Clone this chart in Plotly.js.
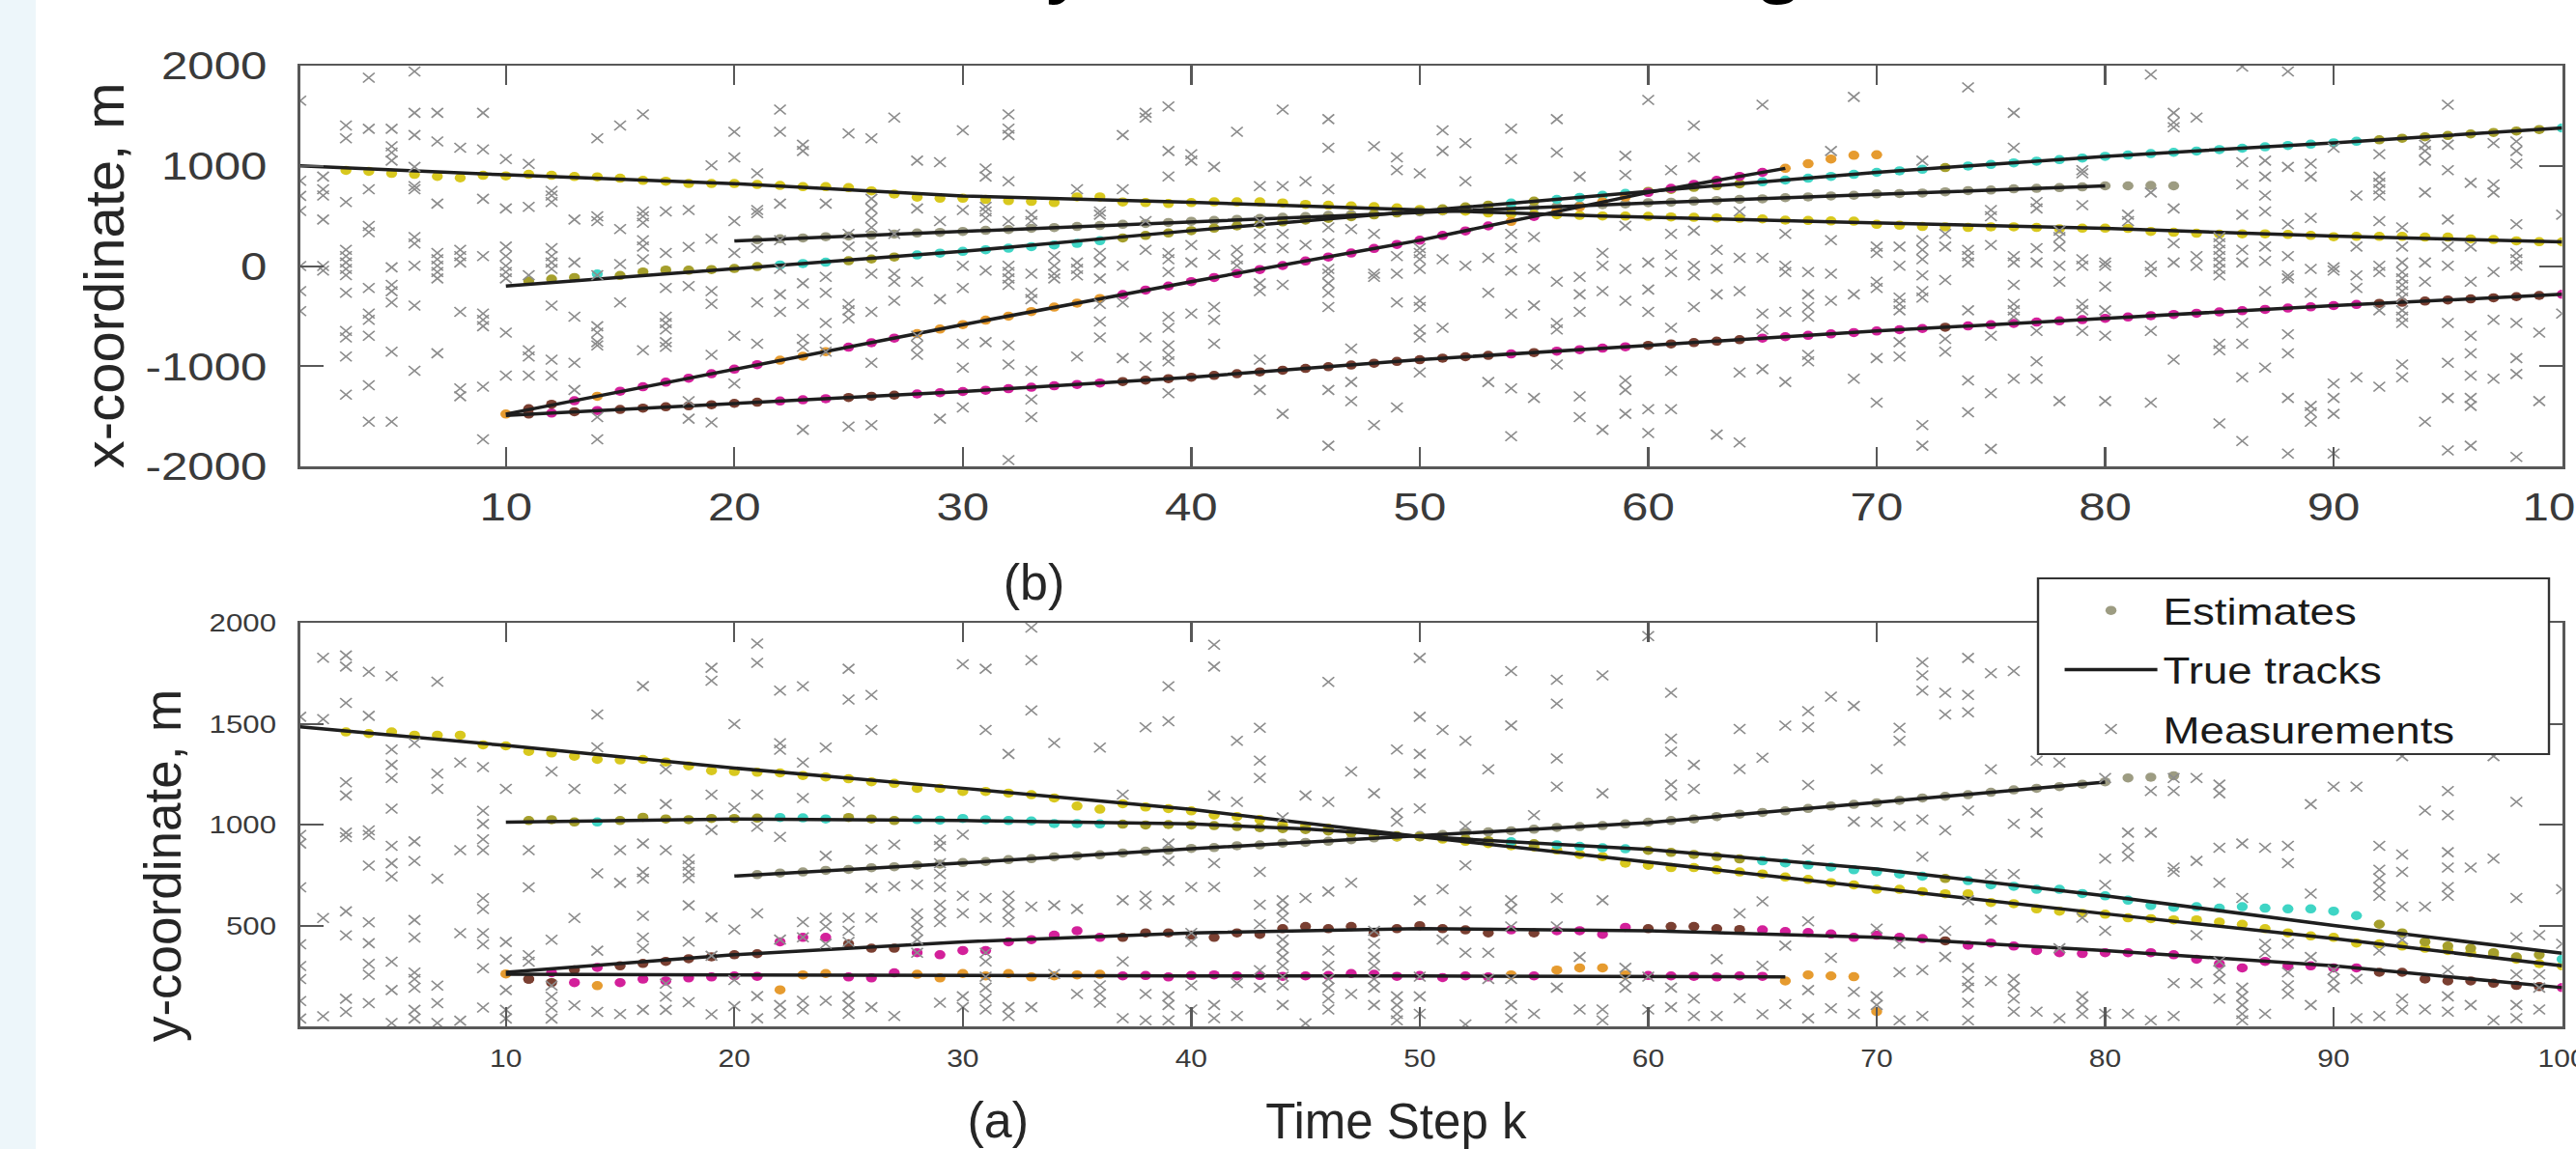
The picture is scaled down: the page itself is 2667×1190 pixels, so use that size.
<!DOCTYPE html>
<html>
<head>
<meta charset="utf-8">
<title>(x, y) Coordinate Tracking</title>
<script src="https://cdn.plot.ly/plotly-3.0.1.min.js"></script>
<style>
  html, body { margin: 0; padding: 0; overflow: hidden; background: #ffffff; width: 2667px; height: 1190px; }
  #chart { position: absolute; left: 0; top: 0; width: 2222px; height: 1190px; transform: scaleX(1.20027); transform-origin: 0 0; }
  #strip { position: absolute; left: 0; top: 0; width: 37px; height: 1190px; background: #edf6fa; z-index: 2; }
</style>
</head>
<body>
<div id="chart"></div>
<div id="strip"></div>
<script>
// ---------------- DATA ----------------
const chartTitle = "(x, y) Coordinate Tracking";
const topYTitle = "x-coordinate, m";
const botYTitle = "y-coordinate, m";
const xTitle = "Time Step k";
const panelLabels = ["(a)", "(b)"];
const legendNames = ["Estimates", "True tracks", "Measurements"];

const xTickVals = [10, 20, 30, 40, 50, 60, 70, 80, 90, 100];
const topYTickVals = [-2000, -1000, 0, 1000, 2000];
const topYTickText = ["-2000", "-1000", "0", "1000", "2000"];
const botYTickVals = [500, 1000, 1500, 2000];
const botYTickText = ["500", "1000", "1500", "2000"];

// True tracks (knots: time step, x-coordinate, y-coordinate)
const trueA_k = [1, 10, 20, 30, 40, 50, 58, 68, 80, 90, 100];
const trueA_x = [1000, 910, 822, 700, 636, 565, 500, 440, 376, 298, 241];
const trueA_y = [1484, 1392, 1280, 1180, 1075, 940, 840, 712, 558, 435, 300];
const trueB_k = [10, 20, 30, 40, 45, 50, 60, 70, 80, 90, 100];
const trueB_x = [-200, -25, 146, 353, 452, 550, 745, 935, 1095, 1230, 1378];
const trueB_y = [1012, 1028, 1020, 1003, 978, 941, 877, 780, 647, 500, 362];
const trueC_k = [20, 30, 40, 50, 60, 70, 80];
const trueC_x = [250, 345, 445, 540, 630, 715, 800];
const trueC_y = [745, 810, 880, 945, 1010, 1110, 1210];
const trueD_k = [10, 20, 30, 40, 50, 60, 66];
const trueD_x = [-1478, -1030, -585, -156, 257, 734, 975];
const trueD_y = [258, 254, 252, 250, 250, 248, 245];
const trueE_k = [10, 20, 30, 40, 50, 60, 70, 80, 90, 100];
const trueE_x = [-1492, -1371, -1253, -1110, -935, -792, -649, -522, -395, -283];
const trueE_y = [268, 355, 419, 463, 484, 474, 441, 376, 300, 192];

// Estimates per track (first time step, x values, y values, label runs [from, to, label])
const estA_k0 = 3;
const estA_x = [955, 945, 925, 915, 895, 880, 905, 900, 915, 905, 893, 890, 877, 855, 846,
  823, 823, 823, 814, 804, 792, 792, 782, 750, 718, 687, 677, 677, 664, 652, 645, 633, 690, 690, 639, 633, 623, 633, 640, 640,
  640, 630, 615, 607, 600, 592, 580, 565, 555, 548, 530, 520, 515, 512, 505, 500, 498, 496, 490, 486, 480, 476, 470, 458, 455, 450,
  448, 416, 407, 395, 391, 385, 391, 391, 385, 370, 378, 378, 375, 345, 337, 327, 318, 321, 321, 315, 305, 292, 296, 296, 296, 289, 289, 270, 264, 251, 243, 241];
const estA_y = [1459, 1451, 1459, 1443, 1443, 1443, 1395, 1390, 1363, 1355, 1339, 1323, 1320, 1323, 1310,
  1291, 1267, 1263, 1259, 1256, 1243, 1236, 1227, 1212, 1204, 1180, 1180, 1164, 1164, 1156, 1148, 1132, 1092, 1076, 1103, 1087,
  1079, 1068, 1047, 1040, 1025, 997, 993, 982, 960, 950, 939, 939, 928, 917, 906, 895, 889, 874, 852, 841, 809, 798, 787, 787, 776,
  765, 755, 740, 728, 712,
  701, 679, 679, 668, 657, 657, 614, 608, 582, 571, 560, 556, 538, 534, 528, 528, 517, 506, 484, 463, 448, 441, 413, 409, 398, 387, 376, 365, 355, 333, 311, 300];
const estA_runs = [[3, 100, 'y']];

const estB_k0 = 11;
const estB_x = [-150, -130, -115, -80, -95, -60, -40, -42, -35, -25,
  -5, 10, 25, 38, 52, 70, 90, 110, 128, 146,
  162, 178, 194, 210, 226, 252, 280, 305, 330, 353,
  378, 400, 420, 440, 458, 475, 492, 510, 530, 550,
  570, 590, 608, 628, 648, 665, 685, 705, 725, 745,
  765, 785, 802, 820, 840, 858, 876, 895, 915, 935,
  950, 966, 982, 998, 1014, 1030, 1046, 1062, 1078, 1095,
  1108, 1122, 1135, 1148, 1162, 1176, 1190, 1203, 1216, 1230,
  1245, 1260, 1275, 1290, 1303, 1318, 1333, 1348, 1362, 1378];
const estB_y = [1020, 1024, 1013, 1013, 1020, 1036, 1028, 1024, 1030, 1030,
  1032, 1035, 1033, 1028, 1035, 1028, 1020, 1025, 1022, 1030,
  1024, 1020, 1018, 1005, 1005, 1003, 1002, 998, 1000, 998,
  995, 990, 985, 980, 975, 968, 960, 952, 945, 940,
  935, 928, 920, 915, 905, 900, 892, 885, 880, 872,
  862, 852, 842, 830, 820, 810, 800, 790, 776, 766,
  755, 744, 733, 722, 701, 694, 679, 679, 658, 647,
  625, 599, 590, 593, 586, 593, 586, 582, 582, 571,
  549, 506, 463, 419, 398, 387, 365, 344, 355, 333];
const estB_runs = [[11, 13, 'o'], [14, 14, 'c'], [15, 21, 'o'], [22, 24, 'c'], [25, 27, 'o'], [28, 36, 'c'],
  [37, 53, 'o'], [54, 54, 'c'], [55, 55, 'o'], [56, 59, 'c'], [60, 64, 'o'], [65, 72, 'c'], [73, 73, 'o'],
  [74, 91, 'c'], [92, 99, 'o'], [100, 100, 'c']];

const estC_k0 = 21;
const estC_x = [262, 272, 280, 292, 300, 308, 318, 330, 336, 345,
  356, 364, 376, 384, 395, 404, 416, 425, 434, 446,
  455, 466, 474, 486, 494, 506, 514, 523, 533, 540,
  550, 559, 566, 577, 584, 595, 602, 613, 620, 632,
  637, 648, 654, 665, 671, 682, 690, 699, 706, 720,
  724, 728, 741, 752, 758, 770, 775, 783, 790, 800,
  800, 805, 800];
const estC_y = [752, 760, 765, 773, 778, 786, 791, 799, 804, 812,
  817, 826, 831, 840, 845, 850, 859, 868, 873, 882,
  886, 895, 899, 908, 912, 917, 925, 934, 938, 946,
  951, 960, 964, 969, 977, 986, 990, 995, 1003, 1012,
  1020, 1028, 1040, 1052, 1060, 1068, 1080, 1092, 1100, 1108,
  1120, 1132, 1140, 1148, 1160, 1172, 1180, 1188, 1200, 1212,
  1231, 1235, 1242];
const estC_runs = [[21, 83, 'g']];

const estD_k0 = 10;
const estD_x = [-1478, -1425, -1380, -1345, -1300, -1250, -1205, -1160, -1120, -1075, -1030,
  -985, -940, -900, -855, -810, -765, -720, -675, -630, -585,
  -540, -500, -455, -410, -370, -325, -285, -240, -200, -156,
  -115, -75, -35, 5, 50, 90, 130, 175, 215, 257,
  305, 350, 400, 445, 495, 545, 590, 640, 688, 734,
  775, 815, 855, 895, 935, 975,
  1021, 1068, 1105, 1110];
const estD_y = [260, 234, 217, 217, 202, 217, 234, 225, 240, 245, 250,
  248, 181, 255, 262, 245, 240, 265, 258, 240, 262,
  250, 262, 245, 250, 255, 258, 250, 252, 245, 252,
  255, 250, 252, 248, 250, 252, 262, 258, 248, 252,
  242, 250, 245, 255, 250, 279, 290, 290, 255, 252,
  250, 248, 245, 250, 248, 225,
  255, 250, 246, 73];
const estD_runs = [[10, 10, 'r'], [11, 12, 'b'], [13, 13, 'm'], [14, 14, 'r'], [15, 21, 'm'], [22, 24, 'r'],
  [25, 27, 'm'], [28, 36, 'r'], [37, 53, 'm'], [54, 54, 'r'], [55, 55, 'm'], [56, 59, 'r'], [60, 65, 'm'], [66, 70, 'r']];

const estE_k0 = 11;
const estE_x = [-1478, -1468, -1455, -1443, -1432, -1418, -1405, -1396, -1385, -1371,
  -1360, -1348, -1336, -1325, -1312, -1300, -1289, -1277, -1265, -1253,
  -1240, -1225, -1210, -1196, -1182, -1168, -1153, -1139, -1125, -1110,
  -1092, -1075, -1057, -1040, -1022, -1005, -988, -970, -952, -935,
  -920, -906, -892, -878, -864, -850, -835, -820, -806, -792,
  -778, -764, -750, -735, -720, -706, -692, -678, -664, -649,
  -636, -624, -611, -598, -586, -573, -560, -548, -535, -522,
  -509, -496, -484, -471, -458, -446, -433, -420, -408, -395,
  -384, -373, -362, -350, -339, -328, -317, -306, -294, -283];
const estE_y = [234, 266, 280, 292, 300, 312, 322, 335, 345, 355,
  360, 419, 441, 441, 409, 387, 387, 365, 355, 376,
  376, 419, 430, 452, 474, 441, 441, 463, 463, 452,
  441, 463, 456, 484, 495, 484, 495, 463, 484, 499,
  484, 478, 463, 478, 463, 474, 474, 456, 491, 484,
  495, 495, 484, 480, 478, 470, 465, 458, 441, 452,
  441, 435, 424, 402, 413, 398, 376, 365, 361, 365,
  365, 365, 355, 333, 311, 290, 322, 300, 300, 290,
  290, 268, 268, 235, 225, 225, 214, 203, 197, 192];
const estE_runs = [[11, 11, 'b'], [12, 12, 'm'], [13, 13, 'b'], [14, 14, 'm'], [15, 21, 'b'], [22, 24, 'm'],
  [25, 27, 'b'], [28, 36, 'm'], [37, 53, 'b'], [54, 54, 'm'], [55, 55, 'b'], [56, 59, 'm'], [60, 64, 'b'],
  [65, 72, 'm'], [73, 73, 'b'], [74, 91, 'm'], [92, 99, 'b'], [100, 100, 'm']];

// Measurements, one list per time step k = 1..100
const measTop = [
  [1650, 850, 700, 550, 0, -250, -450],
  [893, 766, 703, 464, 0, -45],
  [1402, 1275, 639, 162, 98, 35, -29, -92, -267, -649, -713, -903, -1285],
  [1879, 1370, 766, 400, 337, -220, -474, -538, -697, -1190, -1555],
  [1370, 1195, 1132, 1052, -13, -188, -252, -363, -856, -1555],
  [1943, 1529, 1307, 989, 798, 766, 289, 225, 3, -395, -1046],
  [1529, 1243, 623, 130, 67, 3, -60, -124, -871],
  [1180, 162, 98, 35, -458, -1221, -1300],
  [1529, 1164, 671, 98, -474, -538, -601, -1205, -1730],
  [1068, 575, 194, 98, 3, -60, -124, -665, -1094],
  [1020, 591, -92, -840, -903, -1094],
  [750, 703, 639, 178, 98, 35, -29, -395, -935, -1094],
  [464, 35, -506, -967, -1237],
  [1275, 496, 448, -92, -601, -665, -760, -792, -1508, -1730],
  [1402, 369, 19, -363],
  [1513, 544, 496, 432, 257, 194, 67, -840],
  [544, 130, -220, -506, -570, -633, -760, -808],
  [560, 190, -200, -1350, -1524],
  [1005, 273, -251, -379, -887, -1561],
  [1339, 1084, 448, 130, -697, -1173],
  [925, 560, 528, 178, -363, -776],
  [1561, 1339, 623, 257, -29, -283, -458],
  [1211, 1148, -172, -379, -728, -808, -1635],
  [623, -108, -267, -569, -728, -855],
  [1323, 321, 194, -379, -442, -522, -1603],
  [1275, 671, 575, 480, 385, 194, -77, -458, -967, -1587],
  [1482, 321, -77, -156, -347],
  [1052, 575, -156, -697, -792, -887],
  [1036, 448, -331, -1524],
  [1355, 560, 3, -220, -776, -1015, -1412],
  [973, 893, 591, 544, 480, -45, -760],
  [1514, 1371, 1307, 846, 448, 3, -61, -124, -188, -792, -983, -1937],
  [512, 448, -77, -267, -331, -1046, -1333, -1508],
  [98, 3, -77, -124],
  [766, 35, -29, -93, -903],
  [544, 512, 130, 35, -124, -379, -554, -713],
  [1307, 766, 3, -363, -919],
  [1529, 1482, 448, 162, -713, -999],
  [1593, 1148, 894, 130, 67, -61, -506, -617, -792, -887, -951, -1269],
  [1116, 1052, 210, 35, -474],
  [989, 114, -410, -537, -776],
  [1339, 162, 67, 3],
  [798, 448, 321, 178, -172, -251, -935, -1237],
  [1561, 798, 321, 178, -188, -1476],
  [846, 210],
  [1466, 1180, 766, 385, 226, -29, -77, -172, -267, -410, -1237, -1794],
  [369, -824, -1158, -1349],
  [1196, 321, -77, -108, -1587],
  [1084, 957, 98, -77, -363, -1412],
  [925, 178, 130, 67, -29, -347, -410, -633, -713, -1062],
  [1355, 1148, 67, -617],
  [1227, 846, 3],
  [82, -267, -1158],
  [1371, 1068, 321, 178, -45, -474, -1221, -1698],
  [289, -29, -394, -1317],
  [1466, 1132, -156, -569, -633, -983],
  [893, -108, -283, -458, -1301, -1508],
  [130, 3, -251, -1635],
  [1100, 909, 401, -29, -347, -1142, -1237, -1476],
  [1657, 35, -235, -458, -1428, -1667],
  [957, 321, 114, -61, -617, -1046, -1428],
  [1402, 1084, 353, 3, -93, -410],
  [162, -29, -283, -1683],
  [544, 82, -251, -1062, -1762],
  [1609, 82, -474, -633, -1030],
  [321, 3, -61, -458, -1158],
  [-61, -283, -410, -506, -887, -951],
  [1148, 257, -77, -347],
  [1688, -283, -1126],
  [194, 130, -156, -220, -919, -1364],
  [194, 3, -315, -379, -442, -760, -903],
  [1052, 257, 162, 67, -93, -251, -315, -1587, -1794],
  [321, 194, -140, -728, -856],
  [1784, 162, 98, 35, -442, -1142, -1460],
  [559, 496, 210, -697, -1269, -1825],
  [1529, 1180, 98, 35, -188, -379, -442, -506, -1126],
  [639, 575, 178, 35, -649, -951, -1126],
  [353, 289, 194, 3, -156, -1348],
  [957, 925, 607, 67, 3, -379, -442, -649],
  [35, 3, -204, -442, -697, -1348],
  [512, 448],
  [1911, 734, 3, -61, -649, -1364],
  [1529, 1434, 1386, 575, 226, 35, -935],
  [1482, 98, 3],
  [289, 226, 162, 98, 35, -29, -93, -776, -840, -1571],
  [1990, 1036, 814, 512, 162, 35, -569, -776, -1110, -1746],
  [1052, 893, 703, 544, 194, 51, -251, -1015],
  [1943, 989, 417, 98, -93, -124, -681, -872, -1317, -1873],
  [1021, 893, 480, -29, -267, -1396, -1460, -1555],
  [1180, -13, -45, -1174, -1317, -1476, -1873],
  [703, 194, -93, -220, -1110],
  [1116, 893, 830, 766, 703, 448, 3, -61, -442, -1205],
  [385, 194, 35, -61, -124, -188, -251, -315, -442, -506, -569, -983, -1110],
  [1211, 1148, 1052, 734, 35, -156, -1555],
  [1609, 1211, 957, 464, 194, 3, -569, -967, -1317, -1841],
  [830, 194, -156, -697, -872, -1094, -1317, -1396, -1794],
  [1227, 814, 734, -61, -538, -1126],
  [1243, 1148, 1021, 417, 130, 67, 3, -569, -919, -1078, -1905],
  [-665, -1348],
  [512, -474]
];
const measBot = [
  [1534, 949, 906, 689, 407, 299, 234, 126, 39],
  [1827, 1523, 537, 50],
  [1838, 1783, 1603, 1209, 1144, 960, 938, 570, 451, 137, 72],
  [1757, 1539, 971, 949, 797, 516, 412, 310, 256, 115],
  [1736, 1372, 1296, 1231, 1079, 895, 808, 743, 321, 180, 17],
  [1404, 917, 819, 527, 440, 267, 234, 191, 82, 39],
  [1708, 1252, 1177, 732, 202, 115, 17],
  [1307, 873, 462, 28],
  [1285, 1068, 1003, 927, 873, 635, 581, 462, 407, 288, 93],
  [1177, 418, 332, 180, 82, 39],
  [873, 689, 353, 321],
  [1263, 429, 202, 147, 93, 39],
  [1177, 537, 104],
  [1545, 1383, 758, 375, 72],
  [1177, 873, 711, 61],
  [1686, 906, 765, 732, 548, 440, 386, 82],
  [1274, 1101, 873, 212, 147, 82],
  [829, 797, 766, 734, 600, 420, 120],
  [1777, 1713, 1148, 973, 540, 350, 60],
  [1498, 1084, 480, 230, 100],
  [1897, 1801, 1148, 989, 560, 150, 40],
  [1664, 1403, 1371, 939, 430, 106, 62],
  [1685, 1307, 1132, 517, 441, 127, 84],
  [1382, 845, 538, 495, 409, 127],
  [1772, 1620, 1112, 538, 474, 419, 149, 106, 62],
  [1642, 1469, 877, 686, 538, 95],
  [901, 694, 51],
  [702, 560, 517, 474, 430, 365],
  [925, 893, 809, 755, 690, 603, 560, 517, 117],
  [1794, 950, 647, 560, 149, 95],
  [1772, 1469, 636, 538, 365, 322, 246, 192, 138, 84],
  [1350, 647, 603, 560, 517, 95, 51],
  [1976, 1815, 1566, 593, 95],
  [1404, 600, 260],
  [582, 160],
  [1382, 203, 160, 117],
  [1148, 625, 322, 41],
  [1482, 647, 603, 160, 30],
  [1685, 1512, 906, 820, 625, 149, 106, 30],
  [690, 463, 419, 203, 84],
  [1891, 1783, 1144, 809, 690, 106, 41],
  [1415, 1112, 214, 51],
  [1480, 1317, 1231, 766, 603, 506, 279, 192],
  [1036, 625, 582, 538, 430, 387, 344, 300, 246, 203, 106],
  [1144, 636, 15],
  [1707, 1112, 668, 376, 300, 235, 192, 138, 84],
  [1263, 712, 160],
  [1155, 474, 409, 344, 300, 235, 192, 106],
  [1372, 1058, 1014, 149, 106, 62, 30],
  [1826, 1534, 1350, 1253, 1080, 625, 246, 149, 62],
  [1469, 679, 430],
  [1415, 993, 798, 571, 365, 10],
  [1274, 365, 235],
  [1761, 1491, 625, 582, 495, 235, 106, 41],
  [1047, 62],
  [1718, 1599, 1328, 1188, 636, 495, 192],
  [344, 84],
  [1739, 1155, 625, 84, 30],
  [290, 235, 192],
  [1934, 246, 84],
  [1653, 1426, 1361, 1198, 1144, 192, 95],
  [1296, 1177, 138, 51],
  [333, 51],
  [1474, 1275, 560, 140],
  [1331, 620, 300, 60],
  [1490, 400, 110],
  [1562, 1482, 1196, 877, 520, 180, 40],
  [1634, 340, 90],
  [1588, 1015, 171, 62],
  [1275, 1012, 484, 149, 106],
  [1480, 1415, 993, 409, 268, 30],
  [1804, 1739, 1664, 1025, 841, 279, 51],
  [1653, 1545, 971, 474, 344],
  [1826, 1642, 1556, 1069, 625, 290, 225, 192, 117, 30],
  [1750, 1274, 755, 528, 225],
  [1761, 1004, 755, 235, 192, 138, 73],
  [1317, 1058, 960, 73],
  [1307, 387, 41],
  [538, 149, 106, 62],
  [1231, 831, 701, 474, 62],
  [960, 885, 841, 62],
  [1166, 960, 30],
  [1231, 1166, 787, 766, 214, 51],
  [1231, 820, 452, 214],
  [1198, 1155, 885, 712, 322, 279, 235, 138],
  [906, 636, 192, 149, 106, 62, 30],
  [885, 409, 365, 62],
  [895, 809, 409, 268, 203, 160],
  [1101, 658, 344, 106],
  [1188, 279, 235, 192],
  [1188, 235, 41],
  [895, 776, 733, 690, 647, 376, 51],
  [1339, 852, 766, 593, 430, 138, 84],
  [1069, 593, 84],
  [1166, 1047, 863, 787, 690, 647, 279, 149, 73],
  [787, 106],
  [1339, 831, 30],
  [1112, 636, 441, 257, 106, 41],
  [452, 257, 192, 84],
  [679, 409]
];

// ---------------- STYLE / BUILD ----------------
const SX = 1.20027; // horizontal stretch of the figure body (see #chart CSS)
const fontFam = 'Liberation Sans, Arial, Helvetica, sans-serif';
const palette = { y: '#d8c81e', o: '#a59f2c', c: '#3fd5c5', g: '#9d9c82', r: '#e69b2f', m: '#d3209a', b: '#7a3f31' };
const labelOrder = ['g', 'y', 'o', 'c', 'r', 'm', 'b'];

function labelAt(runs, k) {
  for (const r of runs) { if (k >= r[0] && k <= r[1]) return r[2]; }
  return 'g';
}

const estTracks = [
  { k0: estA_k0, xs: estA_x, ys: estA_y, runs: estA_runs },
  { k0: estB_k0, xs: estB_x, ys: estB_y, runs: estB_runs },
  { k0: estC_k0, xs: estC_x, ys: estC_y, runs: estC_runs },
  { k0: estD_k0, xs: estD_x, ys: estD_y, runs: estD_runs },
  { k0: estE_k0, xs: estE_x, ys: estE_y, runs: estE_runs }
];
const groups = { top: {}, bot: {} };
labelOrder.forEach(l => { groups.top[l] = { k: [], v: [] }; groups.bot[l] = { k: [], v: [] }; });
estTracks.forEach(t => {
  t.xs.forEach((v, i) => { const k = t.k0 + i; const g = groups.top[labelAt(t.runs, k)]; g.k.push(k); g.v.push(v); });
  t.ys.forEach((v, i) => { const k = t.k0 + i; const g = groups.bot[labelAt(t.runs, k)]; g.k.push(k); g.v.push(v); });
});

const traces = [];
let shown = false;
['bot', 'top'].forEach(panel => {
  labelOrder.forEach(l => {
    const g = groups[panel][l];
    if (!g.k.length) return;
    traces.push({
      type: 'scatter', mode: 'markers', x: g.k, y: g.v,
      xaxis: panel === 'top' ? 'x' : 'x2', yaxis: panel === 'top' ? 'y' : 'y2',
      marker: { color: palette[l], size: 9.5, symbol: 'circle', line: { width: 0 } },
      name: legendNames[0], legendgroup: 'est', showlegend: !shown, hoverinfo: 'skip'
    });
    shown = true;
  });
});

const trueTracks = [
  [trueA_k, trueA_x, trueA_y], [trueB_k, trueB_x, trueB_y], [trueC_k, trueC_x, trueC_y],
  [trueD_k, trueD_x, trueD_y], [trueE_k, trueE_x, trueE_y]
];
shown = false;
trueTracks.forEach(([ks, xs, ys]) => {
  traces.push({ type: 'scatter', mode: 'lines', x: ks, y: xs, xaxis: 'x', yaxis: 'y',
    line: { color: '#1e1e1e', width: 3.5 }, name: legendNames[1], legendgroup: 'true', showlegend: !shown, hoverinfo: 'skip' });
  shown = true;
  traces.push({ type: 'scatter', mode: 'lines', x: ks, y: ys, xaxis: 'x2', yaxis: 'y2',
    line: { color: '#1e1e1e', width: 3.5 }, name: legendNames[1], legendgroup: 'true', showlegend: false, hoverinfo: 'skip' });
});

function flatten(meas) {
  const k = [], v = [];
  meas.forEach((arr, i) => arr.forEach(val => { k.push(i + 1); v.push(val); }));
  return { k, v };
}
const mTop = flatten(measTop), mBot = flatten(measBot);
const measMarker = { symbol: 'x-thin', size: 10, color: '#8d8d8d', line: { color: '#8d8d8d', width: 1.5 } };
traces.push({ type: 'scatter', mode: 'markers', x: mBot.k, y: mBot.v, xaxis: 'x2', yaxis: 'y2', marker: measMarker,
  name: legendNames[2], legendgroup: 'meas', showlegend: true, hoverinfo: 'skip' });
traces.push({ type: 'scatter', mode: 'markers', x: mTop.k, y: mTop.v, xaxis: 'x', yaxis: 'y', marker: measMarker,
  name: legendNames[2], legendgroup: 'meas', showlegend: false, hoverinfo: 'skip' });

const axisBase = {
  showline: true, linecolor: '#585858', linewidth: 2.5, mirror: 'allticks',
  ticks: 'inside', ticklen: 20, tickwidth: 2, tickcolor: '#585858',
  showgrid: false, zeroline: false, fixedrange: true
};
const titleFont = (size) => ({ family: fontFam, size: size, color: '#262626' });

const layout = {
  width: 2222, height: 1190, autosize: false,
  paper_bgcolor: '#ffffff', plot_bgcolor: '#ffffff',
  margin: { l: 259, r: 12, t: 68, b: 127 },
  font: { family: fontFam, color: '#262626' },
  hovermode: false,
  title: {
    text: chartTitle, xref: 'container', x: 0.5333, xanchor: 'center',
    yref: 'container', y: 1, yanchor: 'bottom', pad: { b: 12, t: 0, l: 0, r: 0 },
    font: { family: 'Open Sans, sans-serif', size: 69, color: '#000000', weight: 700 }
  },
  xaxis: Object.assign({}, axisBase, {
    domain: [0, 1], anchor: 'y', range: [1, 100], tickmode: 'array', tickvals: xTickVals,
    tickfont: { family: fontFam, size: 41, color: '#3a3a3a' }, ticklabelstandoff: 4, ticklabeloverflow: 'allow'
  }),
  yaxis: Object.assign({}, axisBase, {
    domain: [0.5829, 1], anchor: 'x', range: [-2000, 2000], tickmode: 'array',
    tickvals: topYTickVals, ticktext: topYTickText,
    tickfont: { family: fontFam, size: 41, color: '#3a3a3a' }, ticklabelstandoff: 18
  }),
  xaxis2: Object.assign({}, axisBase, {
    domain: [0, 1], anchor: 'y2', range: [1, 100], tickmode: 'array', tickvals: xTickVals,
    tickfont: { family: fontFam, size: 25, color: '#3a3a3a' }, ticklabelstandoff: 10, ticklabeloverflow: 'allow'
  }),
  yaxis2: Object.assign({}, axisBase, {
    domain: [0, 0.4201], anchor: 'x2', range: [0, 2000], tickmode: 'array',
    tickvals: botYTickVals, ticktext: botYTickText,
    tickfont: { family: fontFam, size: 26, color: '#3a3a3a' }, ticklabelstandoff: 13
  }),
  annotations: [
    // axis titles
    { text: topYTitle, xref: 'paper', yref: 'paper', x: -0.0865, y: 0.782, xanchor: 'center', yanchor: 'middle',
      textangle: -90, showarrow: false, font: titleFont(58) },
    { text: botYTitle, xref: 'paper', yref: 'paper', x: -0.061, y: 0.1678, xanchor: 'center', yanchor: 'middle',
      textangle: -90, showarrow: false, font: titleFont(53) },
    { text: xTitle, xref: 'paper', yref: 'paper', x: 0.4844, y: -0.0985, xanchor: 'center', yanchor: 'middle',
      showarrow: false, font: titleFont(51) },
    // panel labels
    { text: panelLabels[0], xref: 'paper', yref: 'paper', x: 0.3084, y: -0.0975, xanchor: 'center', yanchor: 'middle',
      showarrow: false, font: titleFont(52) },
    { text: panelLabels[1], xref: 'paper', yref: 'paper', x: 0.3242, y: 0.4623, xanchor: 'center', yanchor: 'middle',
      showarrow: false, font: titleFont(52) }
  ],
  shapes: [
    { type: 'rect', xref: 'paper', yref: 'paper', x0: 0.7683, x1: 0.9942, y0: 0.2834, y1: 0.4663,
      line: { color: '#333333', width: 2 }, fillcolor: '#ffffff', layer: 'above' }
  ],
  showlegend: true,
  legend: {
    x: 0.7775, xanchor: 'left', y: 0.4643, yanchor: 'top',
    bgcolor: 'rgba(0,0,0,0)', borderwidth: 0,
    font: { family: fontFam, size: 38, color: '#1a1a1a' },
    itemwidth: 80, tracegroupgap: 9, traceorder: 'grouped', orientation: 'v'
  }
};

Plotly.newPlot('chart', traces, layout, { displayModeBar: false, staticPlot: true }).then(gd => {
  // Labels and the page title are not stretched in the reference: undo the body stretch around each one's centre.
  const unstretch = el => {
    const b = el.getBBox();
    const cx = b.x + b.width / 2;
    const prev = el.getAttribute('transform') || '';
    el.setAttribute('transform', 'translate(' + cx + ',0) scale(' + (1 / SX) + ',1) translate(' + (-cx) + ',0) ' + prev);
  };
  gd.querySelectorAll('.annotation').forEach(unstretch);
  gd.querySelectorAll('.g-gtitle').forEach(unstretch);
});
</script>
</body>
</html>
